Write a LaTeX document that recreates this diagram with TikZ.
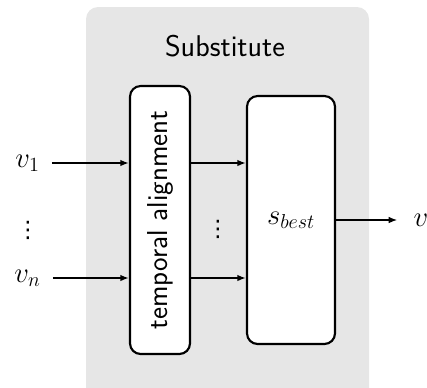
\documentclass[tikz,border=0pt]{standalone}
\usepackage{fix-cm}
\usepackage{fontspec}
\newfontfamily\symfont{DejaVu Sans}
\usetikzlibrary{arrows.meta}
\definecolor{panelgray}{RGB}{230,230,230}
\begin{document}
\begin{tikzpicture}[x=0.75pt, y=-0.75pt,
  font=\fontsize{21.6}{26}\selectfont,
  block/.style={draw=black, line width=1.6pt, fill=white, rounded corners=8pt, inner sep=0pt},
  lbl/.style={inner sep=9pt},
  dots/.style={inner sep=0pt, font=\fontsize{17}{20}\selectfont\symfont},
  arr/.style={line width=1.3pt, -{Latex[length=6.5pt,width=5pt]}}]
  \useasboundingbox (0,0) rectangle (427,387);
  \clip (0,0) rectangle (427,387);
  % shaded panel of the substitute block
  \fill[panelgray, rounded corners=9pt] (86,7) rectangle (369,420);
  \node[font=\fontsize{22.5}{27}\selectfont\sffamily] (title) at (225,46) {Substitute};
  % inner blocks
  \node[block, minimum width=45pt, minimum height=201pt] (ta) at (160,220)
    {\sffamily\rotatebox{90}{temporal alignment}};
  \node[block, minimum width=66pt, minimum height=186pt] (sb) at (291,220) {$s_{best}$};
  % inputs
  \node[lbl] (v1) at (27.5,163) {$v_1$};
  \node[lbl] (vn) at (27.5,278) {$v_n$};
  \node[dots] (d1) at (28,230) {⋮};
  \node[dots] (d2) at (218,229) {⋮};
  % output
  \node[lbl, inner sep=12pt] (out) at (421,220) {$v$};
  % connectors
  \draw[arr] (v1) -- (v1 -| ta.west);
  \draw[arr] (vn) -- (vn -| ta.west);
  \draw[arr] (ta.east |- v1) -- (sb.west |- v1);
  \draw[arr] (ta.east |- vn) -- (sb.west |- vn);
  \draw[arr] (sb.east) -- (out);
\end{tikzpicture}
\end{document}
